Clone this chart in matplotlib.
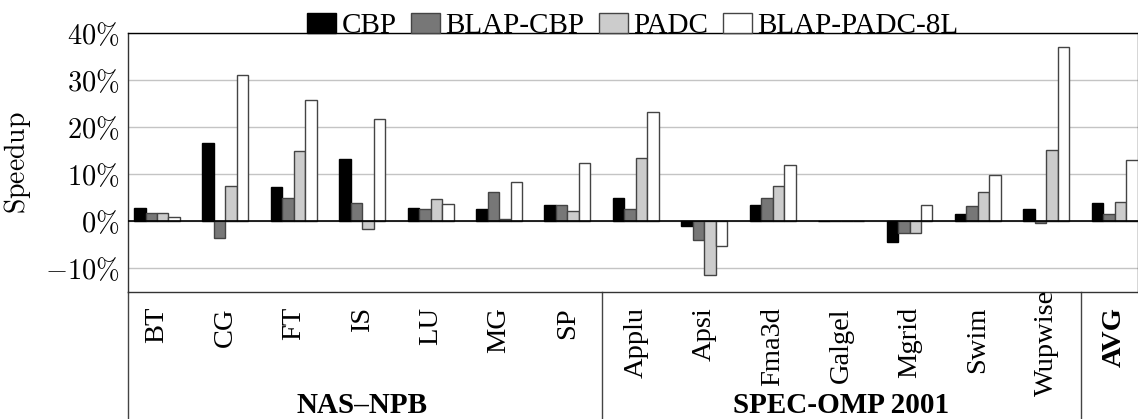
import numpy as np
import matplotlib.pyplot as plt
from matplotlib.patches import Patch
from matplotlib.lines import Line2D
from matplotlib.transforms import blended_transform_factory, offset_copy

plt.rcParams['mathtext.fontset'] = 'cm'
serif = ['Liberation Serif', 'DejaVu Serif']

# данные (%)
benchmarks = ['BT', 'CG', 'FT', 'IS', 'LU', 'MG', 'SP',
              'Applu', 'Apsi', 'Fma3d', 'Galgel', 'Mgrid', 'Swim', 'Wupwise', 'AVG']
series = ['CBP', 'BLAP-CBP', 'PADC', 'BLAP-PADC-8L']
cbp = [2.9, 16.7, 7.2, 13.2, 2.8, 2.55, 3.4, 4.9, -1.05, 3.5, 0.05, -4.4, 1.6, 2.55, 4.0]
blap_cbp = [1.85, -3.5, 5.0, 3.8, 2.6, 6.2, 3.5, 2.7, -4.0, 4.9, 0.05, -2.4, 3.2, -0.35, 1.6]
padc = [1.85, 7.6, 15.0, -1.7, 4.75, 0.55, 2.3, 13.5, -11.3, 7.6, 0.05, -2.55, 6.3, 15.2, 4.2]
blap_padc_8l = [0.9, 31.0, 25.7, 21.7, 3.6, 8.4, 12.3, 23.3, -5.3, 12.0, 0.0, 3.5, 9.8, 37.0, 13.1]
groups = ['NAS–NPB', 'SPEC-OMP 2001']
group_first = [0, 7]
group_last = [6, 13]
yticks = [-10, 0, 10, 20, 30, 40]

values = [cbp, blap_cbp, padc, blap_padc_8l]
colors = ['black', '#777777', '#cccccc', 'white']
edges = ['black', '#444444', '#444444', '#444444']

fig = plt.figure(figsize=(11.38, 4.19), dpi=100)
ax = fig.add_axes([128 / 1138, 1 - 292 / 419, 1010 / 1138, 259 / 419])

x = np.arange(len(benchmarks))
w = 0.168
for i, vals in enumerate(values):
    ax.bar(x + (i - 1.5) * w, vals, w, color=colors[i], edgecolor=edges[i],
           linewidth=1.0, zorder=3)

ax.set_xlim(-0.424, 14.34)
ax.set_ylim(-15, 40)
ax.set_yticks(yticks)
ax.set_yticklabels(['$%d\\%%$' % v for v in yticks], fontsize=20.5)
ax.tick_params(axis='y', length=0, pad=6)
ax.set_xticks([])
ax.grid(axis='y', color='#c4c4c4', linewidth=1.0, zorder=0)
ax.axhline(0, color='black', linewidth=1.2, zorder=4)
for s in ax.spines.values():
    s.set_color('#333333')
    s.set_linewidth(1.0)
ax.spines['top'].set_color('black')

ax.set_ylabel('$\\mathrm{Speedup}$', fontsize=20)
ax.yaxis.set_label_coords(-0.094, 0.5)

# подписи тестов под осью
trans = blended_transform_factory(ax.transData, ax.transAxes)
for i, name in enumerate(benchmarks):
    dy = -15 if name != 'Wupwise' else 2
    t = offset_copy(trans, fig=fig, x=0, y=dy, units='dots')
    ax.text(x[i], 0, name, transform=t, rotation=90, ha='center', va='top',
            fontsize=20.5, family=serif,
            fontweight='bold' if name == 'AVG' else 'normal')

# группы и разделители
ftrans = blended_transform_factory(ax.transData, fig.transFigure)
for g, a, b in zip(groups, group_first, group_last):
    ax.text((x[a] + x[b]) / 2, 1 - 413 / 419, g, transform=ftrans, ha='center',
            va='baseline', fontsize=21, family=serif, fontweight='bold')
for xs in [x[6] + 0.5, x[13] + 0.5]:
    ax.add_line(Line2D([xs, xs], [0, -0.6], transform=trans, color='#444444',
                       linewidth=1.0, clip_on=False))
ax.add_line(Line2D([0, 0], [0, -0.6], transform=ax.transAxes, color='#444444',
                   linewidth=1.0, clip_on=False))

handles = [Patch(facecolor=colors[i], edgecolor=edges[i] if i else 'black', linewidth=1.0)
           for i in range(4)]
ax.legend(handles, series, loc='lower center', bbox_to_anchor=(0.5, 1.0 - 6 / 259), ncol=4,
          frameon=False, borderpad=0, borderaxespad=0, handlelength=1.0,
          handleheight=0.68, handletextpad=0.18, columnspacing=0.5,
          prop={'family': serif, 'size': 21})

fig.savefig('out.png', dpi=100)
